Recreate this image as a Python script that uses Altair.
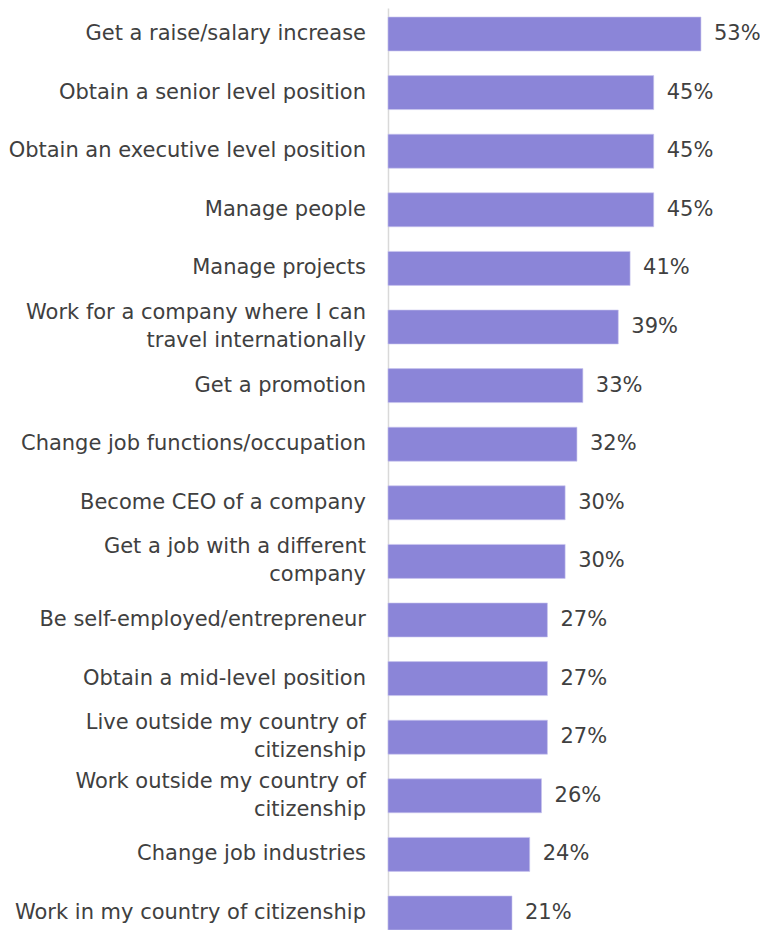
import altair as alt
import pandas as pd

categories = [
    "Get a raise/salary increase",
    "Obtain a senior level position",
    "Obtain an executive level position",
    "Manage people",
    "Manage projects",
    "Work for a company where I can|travel internationally",
    "Get a promotion",
    "Change job functions/occupation",
    "Become CEO of a company",
    "Get a job with a different|company",
    "Be self-employed/entrepreneur",
    "Obtain a mid-level position",
    "Live outside my country of|citizenship",
    "Work outside my country of|citizenship",
    "Change job industries",
    "Work in my country of citizenship",
]
values = [53, 45, 45, 45, 41, 39, 33, 32, 30, 30, 27, 27, 27, 26, 24, 21]

df = pd.DataFrame({"cat": categories, "val": values})
df["lab"] = df["val"].astype(str) + "%"
df["multi"] = df["cat"].str.contains(r"\|")

FONT = "DejaVu Sans"
TXT = "#404040"

yscale = alt.Scale(paddingInner=0.4198, paddingOuter=0.1536, range=[0, 931])
y = alt.Y(
    "cat:N",
    sort=categories,
    scale=yscale,
    axis=alt.Axis(
        title=None,
        labels=False,
        ticks=False,
        domainColor="#D9D9D9",
        domainWidth=1.5,
        grid=False,
    ),
)
y2 = alt.Y("cat:N", sort=categories)
x = alt.X("val:Q", scale=alt.Scale(domain=[0, 60], nice=False), axis=None)

base = alt.Chart(df)
bars = base.mark_bar(color="#8B85D8", stroke="#C9C6EE", strokeWidth=0.6).encode(x=x, y=y)
vals = base.mark_text(
    align="left", baseline="middle", dx=13, font=FONT, fontSize=21, color=TXT
).encode(x=x, y=y2, text="lab:N")

single = base.transform_filter("!datum.multi").mark_text(
    align="right", baseline="middle", font=FONT, fontSize=21, color=TXT
).encode(x=alt.value(-22), y=y2, text="cat:N")

multi = base.transform_filter("datum.multi").mark_text(
    align="right", baseline="middle", lineBreak="|", lineHeight=28, dy=-14,
    font=FONT, fontSize=21, color=TXT
).encode(x=alt.value(-22), y=y2, text="cat:N")

chart = (
    alt.layer(bars, vals, single, multi)
    .properties(
        width=354.3,
        height=922,
        autosize=alt.AutoSizeParams(type="none"),
        padding={"left": 380, "top": 0, "right": 18, "bottom": 0},
    )
    .configure_view(stroke=None)
)

chart.save("out.html", embed_options={"renderer": "svg", "actions": False})
